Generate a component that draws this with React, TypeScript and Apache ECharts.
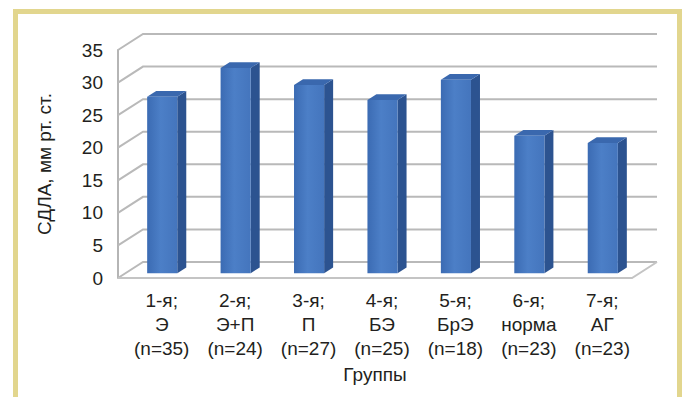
import { useEffect, useRef } from "react";
import * as echarts from "echarts";

const groupOrder = ["1-я;", "2-я;", "3-я;", "4-я;", "5-я;", "6-я;", "7-я;"];
const groupNames = ["Э", "Э+П", "П", "БЭ", "БрЭ", "норма", "АГ"];
const groupSizes = ["(n=35)", "(n=24)", "(n=27)", "(n=25)", "(n=18)", "(n=23)", "(n=23)"];
const sdlaValues = [27.1, 31.5, 28.9, 26.6, 29.7, 21.1, 20.0];
const yTicks = [0, 5, 10, 15, 20, 25, 30, 35];
const yTitle = "СДЛА, мм рт. ст.";
const xTitle = "Группы";

const DX = 25;
const DY = -16;
const FONT = "'Liberation Sans', Arial, sans-serif";
const TEXT = "#231f20";
const FS = 19;

export default function App() {
  const ref = useRef<HTMLDivElement>(null);
  useEffect(() => {
    if (!ref.current) return;
    const chart = echarts.init(ref.current, undefined, { renderer: "svg" });
    const categories = groupOrder.map((g, i) => `${g}\n${groupNames[i]}\n${groupSizes[i]}`);
    const option: any = {
      animation: false,
      backgroundColor: "#ffffff",
      textStyle: { fontFamily: FONT },
      grid: { left: 118, right: 50, top: 50, bottom: 119, containLabel: false },
      graphic: [
        {
          type: "rect",
          shape: { x: 15.5, y: 11.5, width: 664, height: 420 },
          style: { fill: null, stroke: "#e2d68e", lineWidth: 5 },
          z: 100,
        },
      ],
      xAxis: {
        type: "category",
        data: categories,
        axisLine: { show: false },
        axisTick: { show: false },
        axisLabel: {
          interval: 0,
          fontSize: FS,
          lineHeight: 24,
          color: TEXT,
          margin: 10,
          padding: [0, 0, 0, 14],
          fontFamily: FONT,
        },
        name: xTitle,
        nameLocation: "middle",
        nameGap: 84,
        nameTextStyle: { fontSize: FS, color: TEXT, fontFamily: FONT },
      },
      yAxis: {
        type: "value",
        min: 0,
        max: 35,
        interval: 5,
        axisLine: { show: true, lineStyle: { color: "#b5b5b5", width: 2 } },
        axisTick: { show: false },
        splitLine: { show: false },
        axisLabel: { fontSize: FS, color: TEXT, margin: 15, fontFamily: FONT },
        name: yTitle,
        nameLocation: "middle",
        nameGap: 64,
        nameTextStyle: { fontSize: FS, color: TEXT, fontFamily: FONT },
      },
      series: [
        {
          type: "custom",
          data: yTicks.map((v) => [0, v]),
          encode: { x: 0, y: 1 },
          silent: true,
          z: 1,
          renderItem: (params: any, api: any) => {
            const cs = params.coordSys;
            const v = api.value(1);
            const y = api.coord([0, v])[1];
            const x0 = cs.x;
            const x1 = cs.x + cs.width;
            const children: any[] = [
              {
                type: "polyline",
                shape: { points: [[x0, y], [x0 + DX, y + DY], [x1 + DX, y + DY]] },
                style: { stroke: "#b9b9b9", lineWidth: 2, fill: null },
              },
            ];
            if (v === 0) {
              children.push({
                type: "polyline",
                shape: { points: [[x0, y], [x1, y], [x1 + DX, y + DY]] },
                style: { stroke: "#c4c4c4", lineWidth: 2, fill: null },
              });
            }
            return { type: "group", children };
          },
        },
        {
          type: "custom",
          data: sdlaValues.map((v, i) => [i, v]),
          encode: { x: 0, y: 1 },
          z: 2,
          renderItem: (params: any, api: any) => {
            const i = api.value(0);
            const v = api.value(1);
            const base = api.coord([i, 0]);
            const top = api.coord([i, v]);
            const cw = api.size([1, 0])[0];
            const w = cw * 0.41;
            const f1 = 0.3;
            const dep = 0.36;
            const sx = f1 * DX;
            const sy = f1 * DY;
            const ddx = dep * DX;
            const ddy = dep * DY;
            const l = base[0] - w / 2 + sx;
            const r = l + w;
            const yt = top[1] + sy;
            const yb = base[1] + sy;
            return {
              type: "group",
              children: [
                {
                  type: "polygon",
                  shape: { points: [[r, yt], [r + ddx, yt + ddy], [r + ddx, yb + ddy], [r, yb]] },
                  style: { fill: "#2c5390" },
                },
                {
                  type: "polygon",
                  shape: { points: [[l, yt], [l + ddx, yt + ddy], [r + ddx, yt + ddy], [r, yt]] },
                  style: { fill: "#3a68ae" },
                },
                {
                  type: "rect",
                  shape: { x: l, y: yt, width: w, height: yb - yt },
                  style: {
                    fill: new echarts.graphic.LinearGradient(0, 0, 1, 0, [
                      { offset: 0, color: "#3b6bb3" },
                      { offset: 0.45, color: "#4c7fc7" },
                      { offset: 1, color: "#4475bd" },
                    ]),
                  },
                },
              ],
            };
          },
        },
      ],
    };
    chart.setOption(option);
    return () => chart.dispose();
  }, []);
  return (
    <div
      ref={ref}
      style={{ position: "fixed", left: 0, top: 0, width: 682, height: 397 }}
    />
  );
}
